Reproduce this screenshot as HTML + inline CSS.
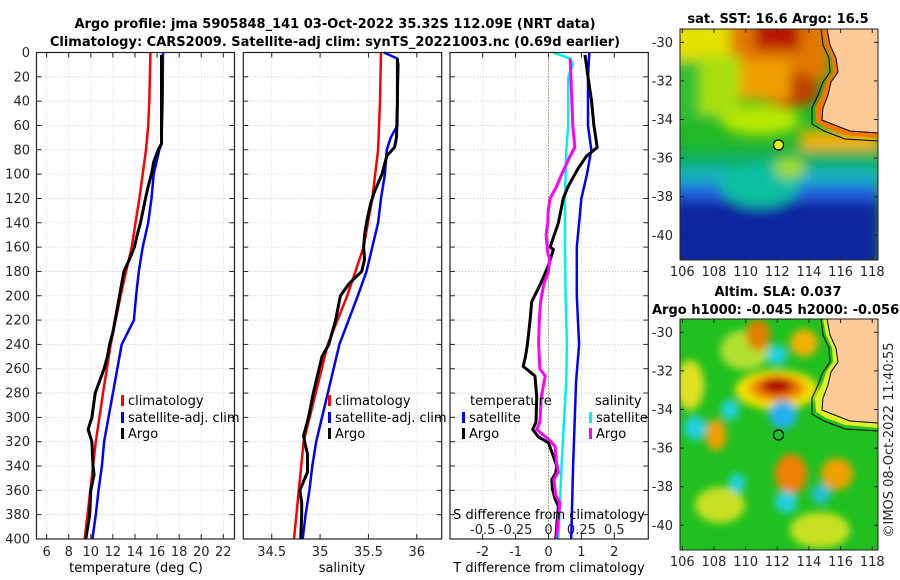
<!DOCTYPE html>
<html><head><meta charset="utf-8"><style>
body{margin:0;background:#fff}
svg{display:block;font-family:"DejaVu Sans","Liberation Sans",sans-serif}
.tk{font-size:13px;fill:#262626}
.ttl{font-size:13px;font-weight:bold;fill:#000}
.lg{font-size:13px;fill:#000}
</style></head><body>
<svg id="fig" width="900" height="580" viewBox="0 0 900 580">
<defs>
<filter id="bl" x="-20%" y="-20%" width="140%" height="140%"><feGaussianBlur stdDeviation="6"/></filter>
<filter id="bl2" x="-50%" y="-50%" width="200%" height="200%"><feGaussianBlur stdDeviation="4"/></filter>
<clipPath id="c1"><rect x="680" y="29" width="198" height="231"/></clipPath>
<clipPath id="c2"><rect x="680" y="319" width="198" height="231"/></clipPath>
</defs>
<text class="ttl" x="335" y="28" text-anchor="middle">Argo profile: jma 5905848_141 03-Oct-2022 35.32S 112.09E (NRT data)</text>
<text class="ttl" x="335" y="46" text-anchor="middle">Climatology: CARS2009. Satellite-adj clim: synTS_20221003.nc (0.69d earlier)</text>

<!-- SST map -->
<g clip-path="url(#c1)">
<rect x="680" y="29" width="198" height="231" fill="#22b828"/>
<g filter="url(#bl)">
<rect x="670" y="20" width="80" height="45" fill="#e6e000"/>
<rect x="730" y="20" width="100" height="60" fill="#e07800"/>
<rect x="755" y="20" width="45" height="30" fill="#b81800"/>
<ellipse cx="790" cy="90" rx="30" ry="18" fill="#c04000"/>
<rect x="740" y="60" width="50" height="40" fill="#f0a000"/>
<ellipse cx="760" cy="120" rx="40" ry="15" fill="#b8e800"/>
<rect x="670" y="60" width="50" height="60" fill="#30c030"/>
<rect x="700" y="55" width="40" height="60" fill="#a8e010"/>
<rect x="800" y="130" width="80" height="30" fill="#f0b000"/>
<rect x="670" y="150" width="210" height="30" fill="#10b060"/>
<rect x="670" y="168" width="210" height="22" fill="#18b0c0"/>
<rect x="670" y="185" width="210" height="20" fill="#2060e0"/>
<rect x="670" y="200" width="210" height="70" fill="#1028a0"/>
<ellipse cx="760" cy="185" rx="40" ry="22" fill="#10c0a0"/>
<ellipse cx="790" cy="168" rx="15" ry="10" fill="#a0e020"/>
</g>
<path d="M823,29 L826,45 L832,58 L833,72 L826,82 L822,95 L815,108 L816,122 L826,128 L845,135 L878,138 L878,29 Z" fill="#f07800"/>
<path d="M827,29 L830,45 L836,58 L838,72 L831,82 L828,95 L823,108 L822,120 L832,124 L850,131 L878,133 L878,29 Z" fill="#fccb98" stroke="#000" stroke-width="1"/>
<path d="M821,29 L823,45 L829,58 L830,72 L823,82 L818,95 L812,108 L812,124 L824,131 L845,139 L878,141" fill="none" stroke="#000" stroke-width="1"/>
<circle cx="778.5" cy="145" r="5" fill="#e8f000" stroke="#000" stroke-width="1.2"/>
</g>
<rect x="680" y="29" width="198" height="231" fill="none" stroke="#222" stroke-width="1"/>
<text class="ttl" x="778" y="23" text-anchor="middle">sat. SST: 16.6 Argo: 16.5</text>

<!-- SLA map -->
<g clip-path="url(#c2)">
<rect x="680" y="319" width="198" height="231" fill="#20c020"/>
<g filter="url(#bl2)">
<ellipse cx="690" cy="385" rx="14" ry="25" fill="#e0e020"/>
<ellipse cx="745" cy="350" rx="25" ry="20" fill="#b0e030"/>
<ellipse cx="777" cy="390" rx="42" ry="20" fill="#f0e000"/>
<ellipse cx="777" cy="388" rx="28" ry="13" fill="#f08000"/>
<ellipse cx="777" cy="386" rx="16" ry="8" fill="#b00000"/>
<ellipse cx="758" cy="335" rx="12" ry="16" fill="#e08000"/>
<ellipse cx="804" cy="343" rx="14" ry="14" fill="#f0b000"/>
<ellipse cx="716" cy="435" rx="10" ry="16" fill="#f0a000"/>
<ellipse cx="791" cy="474" rx="16" ry="20" fill="#f08000"/>
<ellipse cx="837" cy="474" rx="16" ry="16" fill="#f0a000"/>
<ellipse cx="720" cy="505" rx="25" ry="18" fill="#c8e020"/>
<ellipse cx="820" cy="530" rx="30" ry="18" fill="#c8e020"/>
<ellipse cx="777" cy="355" rx="10" ry="10" fill="#20d0e0"/>
<ellipse cx="730" cy="410" rx="9" ry="10" fill="#20d0e0"/>
<ellipse cx="695" cy="428" rx="11" ry="12" fill="#20d0e0"/>
<ellipse cx="783" cy="415" rx="14" ry="14" fill="#20b0f0"/>
<ellipse cx="737" cy="483" rx="8" ry="10" fill="#20d0e0"/>
<ellipse cx="786" cy="502" rx="11" ry="11" fill="#20d0e0"/>
<ellipse cx="821" cy="494" rx="10" ry="10" fill="#20c0d0"/>
</g>
<path d="M823,319 L826,335 L832,348 L833,362 L826,372 L822,385 L815,398 L816,412 L826,418 L845,425 L878,428 L878,319 Z" fill="#e0f020"/>
<path d="M827,319 L830,335 L836,348 L838,362 L831,372 L828,385 L823,398 L822,410 L832,414 L850,421 L878,423 L878,319 Z" fill="#fccb98" stroke="#000" stroke-width="1"/>
<path d="M821,319 L823,335 L829,348 L830,362 L823,372 L818,385 L812,398 L812,414 L824,421 L845,429 L878,431" fill="none" stroke="#000" stroke-width="1"/>
<circle cx="778.5" cy="435" r="5" fill="none" stroke="#000" stroke-width="1.2"/>
</g>
<rect x="680" y="319" width="198" height="231" fill="none" stroke="#222" stroke-width="1"/>
<text class="ttl" x="778" y="296" text-anchor="middle">Altim. SLA: 0.037</text>
<text class="ttl" x="652" y="314">Argo h1000: -0.045 h2000: -0.056</text>
<text class="tk" transform="translate(893,440) rotate(-90)" text-anchor="middle" style="font-size:13px">©IMOS 08-Oct-2022 11:40:55</text>

<g id="plots"></g>
</svg>
<script>
// ---- data ----
const depthTicks=[0,20,40,60,80,100,120,140,160,180,200,220,240,260,280,300,320,340,360,380,400];
const tTicks=[6,8,10,12,14,16,18,20,22];
const sTicks=[34.5,35,35.5,36];
const dtTicks=[-2,-1,0,1,2];
const dsTicks=[-0.5,-0.25,0,0.25,0.5];
const dsTickLabels=["-0.5","-0.25","0","0.25","0.5"];
const lonTicks=[106,108,110,112,114,116,118];
const latTicks=[-30,-32,-34,-36,-38,-40];

const tClimD=[0,20,40,60,70,80,100,120,140,160,180,200,240,280,320,360,400];
const tClimV=[15.4,15.35,15.3,15.2,15.1,15.0,14.7,14.4,14.05,13.7,13.2,12.7,11.8,11.1,10.45,9.95,9.45];
const tSatD=[0,40,75,80,100,120,140,160,180,200,220,240,280,320,340,360,380,400];
const tSatV=[16.54,16.5,16.4,16.2,15.7,15.5,15.2,14.7,14.35,14.1,13.9,12.8,12.0,11.2,11.0,10.7,10.45,10.14];
const tArgoD=[2,40,75,80,90,100,110,120,140,150,160,170,180,200,220,230,240,250,260,280,300,310,320,340,347,360,380,400];
const tArgoV=[16.4,16.4,16.4,16.1,15.7,15.5,15.2,14.95,14.5,14.2,13.95,13.5,13.0,12.6,12.2,12.0,11.7,11.5,11.2,10.4,10.1,9.75,10.1,10.2,10.3,10.0,9.9,9.55];

const sClimD=[0,40,80,120,160,200,240,320,360,400];
const sClimV=[35.63,35.62,35.6,35.54,35.45,35.28,35.08,34.83,34.78,34.73];
const sSatD=[0,5,10,40,60,70,80,100,120,140,160,180,200,240,320,340,360,380,400];
const sSatV=[35.66,35.8,35.81,35.8,35.8,35.73,35.69,35.67,35.63,35.6,35.54,35.48,35.39,35.2,34.96,34.92,34.89,34.85,34.82];
const sArgoD=[5,40,70,78,85,100,115,125,140,150,160,170,180,190,200,220,240,250,280,300,315,320,330,345,360,370,380,400];
const sArgoV=[35.8,35.8,35.79,35.77,35.69,35.64,35.56,35.52,35.48,35.46,35.45,35.46,35.43,35.3,35.21,35.16,35.09,35.02,34.93,34.88,34.83,34.84,34.87,34.87,34.79,34.81,34.81,34.8];

const dtSatD=[0,20,40,60,80,100,120,160,200,240,270,300,337,400];
const dtSatV=[1.24,1.2,1.2,1.2,1.3,1.17,1.0,0.86,0.86,0.93,0.84,0.8,0.75,0.69];
const dtArgoD=[2,20,40,60,78,85,95,110,120,140,160,162,175,190,205,220,240,250,258,266,283,304,310,316,321,332,340,346,351,359,367,373,400];
const dtArgoV=[1.11,1.2,1.31,1.38,1.48,1.16,0.91,0.6,0.45,0.3,0.05,0.15,0.0,-0.24,-0.51,-0.56,-0.64,-0.7,-0.77,-0.41,-0.36,-0.38,-0.48,-0.31,0.0,0.15,0.25,0.22,0.1,0.12,0.2,0.3,0.22];
const dsSatD=[0,5,10,20,60,80,120,160,200,240,269,337,400];
const dsSatV=[0.036,0.165,0.185,0.15,0.15,0.135,0.125,0.125,0.13,0.14,0.135,0.1,0.075];
const dsArgoD=[5,20,60,78,85,100,110,120,130,140,150,165,170,180,190,205,220,240,250,260,266,283,304,310,319,324,337,345,351,364,370,378,400];
const dsArgoV=[0.165,0.17,0.185,0.2,0.165,0.1,0.062,0.012,-0.002,-0.005,-0.018,-0.005,0.01,0.0,-0.035,-0.06,-0.07,-0.075,-0.07,-0.065,-0.025,-0.055,-0.065,-0.09,0.01,0.05,0.06,0.075,0.04,0.055,0.085,0.08,0.06];

// ---- axes ----
const Y0=52.5,Y1=539;
const yD=d=>Y0+d*(Y1-Y0)/400;
const xT=t=>36.5+(t-5.08)*11.04;
const xS=s=>243.3+(s-34.206)*96.7;
const xDT=v=>548.5+v*32.9;
const xDS=v=>548.5+v*131.6;
const panels=[[36.5,234.5],[243.3,441.7],[450,648.3]];
const NS="http://www.w3.org/2000/svg";
const G=document.getElementById('plots');
function mk(tag,at,parent){const e=document.createElementNS(NS,tag);for(const k in at)e.setAttribute(k,at[k]);(parent||G).appendChild(e);return e;}
function txt(s,at,parent){const e=mk('text',at,parent);e.textContent=s;return e;}

panels.forEach((p,i)=>{
  const g=mk('g',{});
  
  
  depthTicks.forEach(d=>{
    const l=mk('line',{x1:p[0],x2:p[1],y1:yD(d),y2:yD(d),stroke:'#b8c0e8','stroke-width':0.8,'stroke-dasharray':'1,2'},g);
    
    
    mk('line',{x1:p[0],x2:p[0]+5,y1:yD(d),y2:yD(d),stroke:'#222'},g);
    mk('line',{x1:p[1]-5,x2:p[1],y1:yD(d),y2:yD(d),stroke:'#222'},g);
  });
});
function xgrid(ticks,fx,p,labels,ly){
  ticks.forEach((t,j)=>{
    const x=fx(t);
    const l=mk('line',{x1:x,x2:x,y1:Y0,y2:Y1,stroke:'#e0c0c8','stroke-width':0.8,'stroke-dasharray':'1,2'});
    
    
    mk('line',{x1:x,x2:x,y1:Y1-5,y2:Y1,stroke:'#222'});
    mk('line',{x1:x,x2:x,y1:Y0,y2:Y0+5,stroke:'#222'});
    if(labels){const e=txt(labels[j],{x:x,y:ly,'text-anchor':'middle',class:'tk'});
      
      }
  });
}
xgrid(tTicks,xT,panels[0],tTicks.map(String),556);
xgrid(sTicks,xS,panels[1],sTicks.map(String),556);
xgrid(dtTicks,xDT,panels[2],dtTicks.map(String),556);
dsTicks.forEach((t,j)=>{const e=txt(dsTickLabels[j],{x:xDS(t),y:534,'text-anchor':'middle',class:'tk'});
  
  });
depthTicks.forEach(d=>{const e=txt(String(d),{x:30,y:yD(d)+4.5,'text-anchor':'end',class:'tk'});
  
  });
// zero line
const z=mk('line',{x1:xDT(0),x2:xDT(0),y1:Y0,y2:Y1,stroke:'#405020','stroke-width':1,'stroke-dasharray':'1,2'});



function series(D,V,fx,color,w,name){
  const pts=D.map((d,k)=>fx(V[k]).toFixed(1)+','+yD(d).toFixed(1)).join(' ');
  const e=mk('polyline',{points:pts,fill:'none',stroke:color,'stroke-width':w,'stroke-linejoin':'round'});
  
  
}
series(tClimD,tClimV,xT,'#ff0000',2.5,'temp-climatology-line');
series(tSatD,tSatV,xT,'#0000ff',2.5,'temp-satellite-line');
series(tArgoD,tArgoV,xT,'#000',3,'temp-argo-line');
series(sClimD,sClimV,xS,'#ff0000',2.5,'sal-climatology-line');
series(sSatD,sSatV,xS,'#0000ff',2.5,'sal-satellite-line');
series(sArgoD,sArgoV,xS,'#000',3,'sal-argo-line');
series(dsSatD,dsSatV,xDS,'#00f0f0',2.5,'sdiff-satellite-line');
series(dtSatD,dtSatV,xDT,'#0000ff',2.5,'tdiff-satellite-line');
series(dtArgoD,dtArgoV,xDT,'#000',3,'tdiff-argo-line');
series(dsArgoD,dsArgoV,xDS,'#ff00ff',3,'sdiff-argo-line');

panels.forEach((p,i)=>{
  const r=mk('rect',{x:p[0],y:Y0,width:p[1]-p[0],height:Y1-Y0,fill:'none',stroke:'#222','stroke-width':1.2});
  
  
});

function leg(x,y,color,label){
  mk('rect',{x:x,y:y-10,width:3,height:11,fill:color});
  const e=txt(label,{x:x+7,y:y,class:'lg'});
  
  
}
leg(121,405,'#ff0000','climatology');leg(121,422,'#0000ff','satellite-adj. clim');leg(121,438,'#000','Argo');
leg(328,405,'#ff0000','climatology');leg(328,422,'#0000ff','satellite-adj. clim');leg(328,438,'#000','Argo');
txt('temperature',{x:470,y:405,class:'lg'});
leg(462,422,'#0000ff','satellite');leg(462,438,'#000','Argo');
txt('salinity',{x:595,y:405,class:'lg'});
leg(589,422,'#00f0f0','satellite');leg(589,438,'#ff00ff','Argo');
[['temperature (deg C)',136,'x-axis-title-temperature'],['salinity',342,'x-axis-title-salinity'],['T difference from climatology',549,'x-axis-title-tdiff']].forEach(a=>{
  const e=txt(a[0],{x:a[1],y:572,'text-anchor':'middle',class:'lg'});
  
  
});
const sd=txt('S difference from climatology',{x:549,y:519,'text-anchor':'middle',class:'lg'});



// map axes
const mx=lon=>682.3+(lon-106)*15.83;
const myA=lat=>42.3+(-30-lat)*19.3;
const myB=lat=>332.3+(-30-lat)*19.3;
[[myA,29,260,276],[myB,319,550,566]].forEach(m=>{
  latTicks.forEach(l=>{const y=m[0](l);
    mk('line',{x1:680,x2:684,y1:y,y2:y,stroke:'#222'});
    mk('line',{x1:874,x2:878,y1:y,y2:y,stroke:'#222'});
    const e=txt(String(l),{x:673,y:y+4.5,'text-anchor':'end',class:'tk'});
    
    });
  lonTicks.forEach(l=>{const x=mx(l);
    mk('line',{x1:x,x2:x,y1:m[2]-4,y2:m[2],stroke:'#222'});
    mk('line',{x1:x,x2:x,y1:m[1],y2:m[1]+4,stroke:'#222'});
    const e=txt(String(l),{x:x,y:m[3],'text-anchor':'middle',class:'tk'});
    
    });
});
</script>
</body></html>
